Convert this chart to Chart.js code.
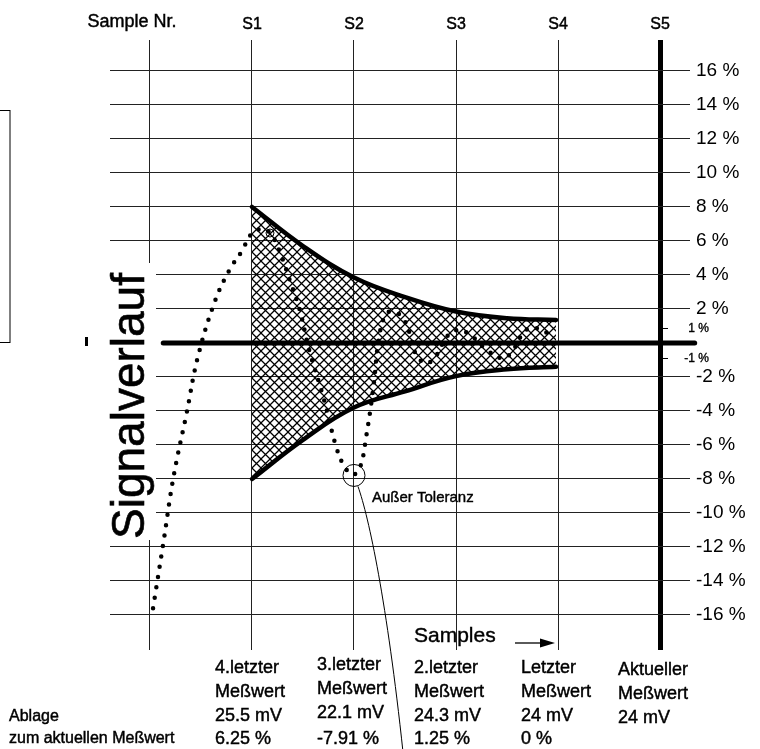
<!DOCTYPE html>
<html>
<head>
<meta charset="utf-8">
<title>Signalverlauf</title>
<script src="https://cdn.jsdelivr.net/npm/chart.js@4.4.1/dist/chart.umd.min.js"></script>
<style>
  html, body { margin: 0; padding: 0; background: #fff; }
  #wrap { width: 760px; height: 749px; }
</style>
</head>
<body>
<div id="wrap"><canvas id="myChart" width="760" height="749"></canvas></div>
<script>
// sample axis (0 = "Sample Nr." column, 1..5 = S1..S5)
var sampleTicks = [0, 1, 2, 3, 4, 5];
var sampleLabels = ['Sample Nr.', 'S1', 'S2', 'S3', 'S4', 'S5'];

// deviation axis in %
var yTicks = [16, 14, 12, 10, 8, 6, 4, 2, 0, -2, -4, -6, -8, -10, -12, -14, -16];

// dotted signal curve (sample position, deviation %)
var signalX = [0.03, 0.13, 0.23, 0.36, 0.47, 0.64, 0.78, 0.90, 1.00, 1.10, 1.18, 1.27, 1.37, 1.47, 1.56, 1.70, 1.83, 1.91, 1.99,
               2.06, 2.12, 2.19, 2.25, 2.32, 2.39, 2.47, 2.55, 2.61, 2.71, 2.81, 2.91, 3.02, 3.14, 3.30, 3.46, 3.55, 3.66, 3.74, 3.84, 3.92];
var signalY = [-15.6, -11.8, -7.9, -4.1, -0.8, 2.5, 4.3, 5.4, 6.45, 6.7, 6.45, 5.4, 3.7, 1.9, -0.4, -3.2, -6.2, -7.3, -7.75,
               -7.3, -5.5, -2.6, 0.5, 1.75, 1.8, 1.55, 0.5, -0.7, -1.2, -0.7, 0.37, 0.76, 0.47, -0.4, -0.9, -0.5, 0.6, 0.9, 0.76, 0.47];

// tolerance band
var bandX = [1, 1.5, 2, 2.5, 3, 3.5, 3.98];
var bandUpper = [8, 5.7, 3.85, 2.7, 1.85, 1.45, 1.35];
var bandLower = [-8, -5.7, -3.8, -2.85, -1.95, -1.55, -1.4];

// zero line span
var zeroX = [0.13, 5.34];

// table under the chart
var rowTitle = ['4.letzter', '3.letzter', '2.letzter', 'Letzter', 'Aktueller'];
var rowValue = ['25.5 mV', '22.1 mV', '24.3 mV', '24 mV', '24 mV'];
var rowOffset = ['6.25 %', '-7.91 %', '1.25 %', '0 %', ''];
var outlierSample = 2;
var outlierValue = -7.91;

function pts(xs, ys) {
    return xs.map(function (x, i) { return { x: x, y: ys[i] }; });
}

// crosshatch for the tolerance band
function hatch() {
    var c = document.createElement('canvas');
    c.width = 9; c.height = 9;
    var g = c.getContext('2d');
    g.strokeStyle = '#000';
    g.lineWidth = 1.25;
    g.beginPath();
    g.moveTo(-1, -1); g.lineTo(10, 10);
    g.moveTo(-1, 10); g.lineTo(10, -1);
    g.stroke();
    return g.createPattern(c, 'repeat');
}

var FONT = '"Liberation Sans", Arial, sans-serif';

// text a little heavier, like the original print
function txt(ctx, s, x, y) {
    ctx.fillText(s, x, y);
    ctx.strokeText(s, x, y);
}

var decor = {
    id: 'decor',
    beforeDatasetsDraw: function (chart) {
        var ctx = chart.ctx;
        ctx.save();
        // white patch behind the axis title
        ctx.fillStyle = '#fff';
        ctx.fillRect(96, 263, 60, 277);
        ctx.fillStyle = '#000';
        ctx.strokeStyle = '#000';
        ctx.lineWidth = 0.6;
        ctx.translate(144, 406);
        ctx.rotate(-Math.PI / 2);
        ctx.font = '46px ' + FONT;
        ctx.textAlign = 'center';
        ctx.textBaseline = 'alphabetic';
        txt(ctx, 'Signalverlauf', 0, 0);
        ctx.restore();
    },
    afterDraw: function (chart) {
        var ctx = chart.ctx;
        var xs = chart.scales.x, ys = chart.scales.y;
        ctx.save();
        ctx.fillStyle = '#000';
        ctx.strokeStyle = '#000';

        // box at the left border
        ctx.lineWidth = 1;
        ctx.strokeRect(-5.5, 110.5, 15.5, 232);
        // small mark left of the zero line
        ctx.fillRect(85, 337, 3, 9);

        ctx.lineWidth = 0.45;
        // top labels
        ctx.textBaseline = 'middle';
        ctx.textAlign = 'center';
        sampleTicks.forEach(function (v, i) {
            if (i === 0) {
                ctx.font = '18px ' + FONT;
                txt(ctx, sampleLabels[i], xs.getPixelForValue(v) - 18, 22);
            } else {
                ctx.font = '16px ' + FONT;
                txt(ctx, sampleLabels[i], xs.getPixelForValue(v), 25);
            }
        });

        // +-1 % marks at the S5 line
        var x5 = xs.getPixelForValue(5);
        ctx.font = '12px ' + FONT;
        ctx.textAlign = 'right';
        [1, -1].forEach(function (v) {
            var py = Math.round(ys.getPixelForValue(v)) + 0.5 + (v > 0 ? 2 : -2);
            ctx.lineWidth = 1;
            ctx.beginPath();
            ctx.moveTo(x5 + 3, py); ctx.lineTo(x5 + 8, py);
            ctx.stroke();
            ctx.lineWidth = 0.35;
            txt(ctx, v + ' %', 709, py);
        });

        // outlier circle + leader
        var cx = xs.getPixelForValue(outlierSample), cy = ys.getPixelForValue(outlierValue);
        ctx.lineWidth = 1;
        ctx.beginPath();
        ctx.arc(cx, cy - 2, 11, 0, Math.PI * 2);
        ctx.stroke();
        ctx.beginPath();
        ctx.moveTo(cx + 4, cy + 9);
        ctx.bezierCurveTo(cx + 15, cy + 40, cx + 33, cy + 125, cx + 49, 752);
        ctx.stroke();
        // small circle on the peak dot near S1
        ctx.beginPath();
        ctx.arc(270, 233, 4, 0, Math.PI * 2);
        ctx.stroke();

        ctx.lineWidth = 0.4;
        ctx.font = '15px ' + FONT;
        ctx.textAlign = 'left';
        txt(ctx, 'Außer Toleranz', 372, 498);

        // "Samples" with arrow
        ctx.font = '21px ' + FONT;
        txt(ctx, 'Samples', 414, 636);
        ctx.lineWidth = 1.3;
        ctx.beginPath();
        ctx.moveTo(515, 643); ctx.lineTo(542, 643);
        ctx.stroke();
        ctx.beginPath();
        ctx.moveTo(555, 643); ctx.lineTo(540, 638.5); ctx.lineTo(540, 647.5);
        ctx.closePath();
        ctx.fill();

        // table
        ctx.lineWidth = 0.45;
        ctx.font = '18px ' + FONT;
        var rowsY = [668, 692, 716, 739];
        rowTitle.forEach(function (t, i) {
            var px = xs.getPixelForValue(i + 1) - 37 - (i === 2 || i === 4 ? 5 : 0);
            var dy = i === 1 ? -3 : (i === 4 ? 2 : 0);
            txt(ctx, t, px, rowsY[0] + dy);
            txt(ctx, 'Meßwert', px, rowsY[1] + dy);
            txt(ctx, rowValue[i], px, rowsY[2] + dy);
            if (rowOffset[i]) txt(ctx, rowOffset[i], px, rowsY[3]);
        });
        ctx.font = '16px ' + FONT;
        txt(ctx, 'Ablage', 9, 717);
        txt(ctx, 'zum aktuellen Meßwert', 9, 739);

        ctx.restore();
    }
};

var ctx = document.getElementById('myChart');

var myChart = new Chart(ctx, {
    type: 'line',
    data: {
        datasets: [{
            label: 'Signal',
            data: pts(signalX, signalY),
            borderColor: '#000',
            borderWidth: 4.5,
            borderDash: [0, 10.5],
            borderCapStyle: 'round',
            pointRadius: 0,
            tension: 0.4,
            fill: false
        }, {
            label: 'Null',
            data: pts(zeroX, [0, 0]),
            borderColor: '#000',
            borderWidth: 5,
            borderCapStyle: 'round',
            pointRadius: 0,
            clip: false,
            fill: false
        }, {
            label: 'Toleranz oben',
            data: pts(bandX, bandUpper),
            borderColor: '#000',
            borderWidth: 4.5,
            borderCapStyle: 'round',
            pointRadius: 0,
            tension: 0.4,
            backgroundColor: hatch(),
            fill: '+1'
        }, {
            label: 'Toleranz unten',
            data: pts(bandX, bandLower),
            borderColor: '#000',
            borderWidth: 4.5,
            borderCapStyle: 'round',
            pointRadius: 0,
            tension: 0.4,
            fill: false
        }]
    },
    options: {
        responsive: false,
        animation: false,
        devicePixelRatio: 1,
        layout: { padding: { left: 110, top: 40, right: 0, bottom: 99 } },
        plugins: {
            legend: { display: false },
            tooltip: { enabled: false }
        },
        scales: {
            x: {
                type: 'linear',
                position: 'top',
                min: -0.392,
                max: 5.294,
                afterBuildTicks: function (s) { s.ticks = sampleTicks.map(function (v) { return { value: v }; }); },
                afterFit: function (s) { s.height = 0; },
                ticks: { display: false },
                border: { display: false },
                grid: {
                    drawTicks: false,
                    color: function (c) { return c.tick && c.tick.value === 5 ? '#000' : '#222'; },
                    lineWidth: function (c) { return c.tick && c.tick.value === 5 ? 5 : 1; }
                }
            },
            y: {
                position: 'right',
                min: -18.06,
                max: 17.82,
                afterBuildTicks: function (s) { s.ticks = yTicks.map(function (v) { return { value: v }; }); },
                afterFit: function (s) { s.width = 70; },
                border: { display: false },
                ticks: {
                    padding: 6,
                    color: '#000',
                    font: { family: FONT, size: 19 },
                    callback: function (v) { return v === 0 ? '' : v + ' %'; }
                },
                grid: {
                    drawTicks: false,
                    color: function (c) { return c.tick && c.tick.value === 0 ? 'rgba(0,0,0,0)' : '#222'; },
                    lineWidth: 1
                }
            }
        }
    },
    plugins: [decor]
});
</script>
</body>
</html>
